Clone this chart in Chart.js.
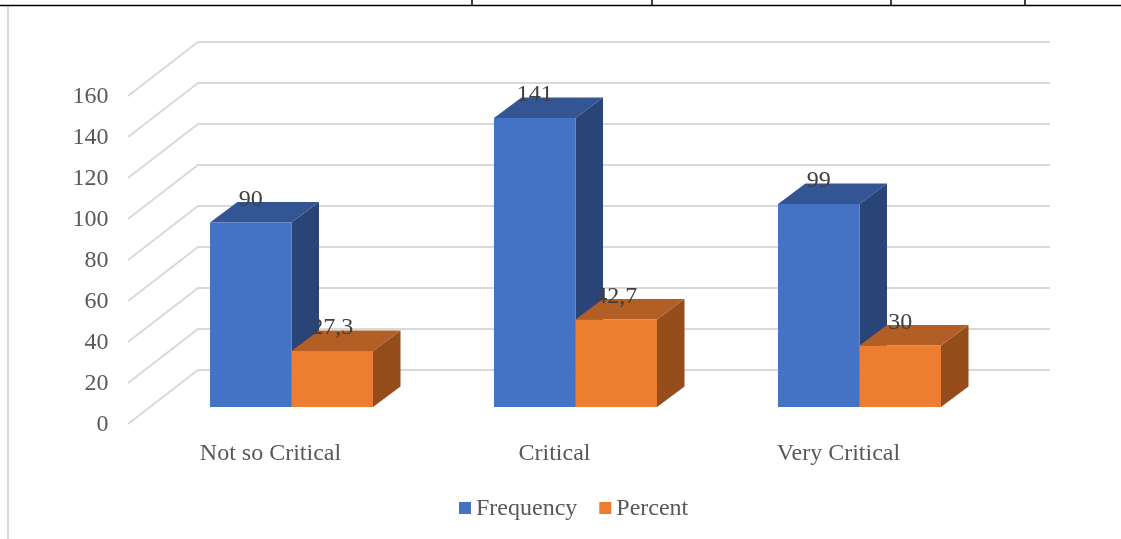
<!DOCTYPE html>
<html>
<head>
<meta charset="utf-8">
<title>Frequency and Percent</title>
<style>
  body { margin: 0; background: #fff; }
  canvas { display: block; }
</style>
<script src="https://cdn.jsdelivr.net/npm/chart.js@4"></script>
</head>
<body>
<canvas id="myChart" width="1121" height="539"></canvas>
<script>
const categorias = ["Not so Critical", "Critical", "Very Critical"];
const frequency = [90, 141, 99];
const percent = [27.3, 42.7, 30];
const valorMaximo = 160;
const paso = 20;

const fuente = "'Liberation Serif', 'Times New Roman', serif";
const colorTexto = "#595959";
const colorEtiqueta = "#404040";
const colorGrid = "#d9d9d9";

// colores de cada cara: frente, arriba, costado
const carasFrequency = ["#4472c4", "#335593", "#294476"];
const carasPercent = ["#ed7d31", "#b25e25", "#944d1b"];

// profundidad de las barras
const fondoX = 27.5;
const fondoY = 20.5;

function poligono(ctx, color, puntos) {
    ctx.fillStyle = color;
    ctx.beginPath();
    puntos.forEach(([x, y], i) => (i ? ctx.lineTo(x, y) : ctx.moveTo(x, y)));
    ctx.closePath();
    ctx.fill();
}

// Marco de la tabla y borde izquierdo del gráfico
const marco = {
    id: "marco",
    beforeDraw(chart) {
        const ctx = chart.ctx;
        ctx.save();
        ctx.strokeStyle = colorGrid;
        ctx.lineWidth = 2;
        ctx.beginPath();
        ctx.moveTo(8, 6);
        ctx.lineTo(8, 539);
        ctx.stroke();

        ctx.strokeStyle = "#000";
        ctx.lineWidth = 1.5;
        ctx.beginPath();
        ctx.moveTo(0, 5.5);
        ctx.lineTo(1121, 5.5);
        [472, 652, 891, 1025].forEach(x => {
            ctx.moveTo(x, 0);
            ctx.lineTo(x, 5.5);
        });
        ctx.stroke();
        ctx.restore();
    }
};

// Piso y pared del fondo, con las líneas de grilla en perspectiva
const paredes = {
    id: "paredes",
    beforeDatasetsDraw(chart) {
        const { ctx, scales: { x, y } } = chart;
        ctx.save();
        ctx.strokeStyle = colorGrid;
        ctx.lineWidth = 2;
        y.ticks.forEach(tick => {
            const py = y.getPixelForValue(tick.value);
            ctx.beginPath();
            ctx.moveTo(x.left - 21.5, py + 17);
            ctx.lineTo(x.left + 48.5, py - 37);
            ctx.lineTo(x.right + 48.5, py - 37);
            ctx.stroke();
        });

        // costado y tapa de cada barra, el frente lo dibuja Chart.js
        chart.data.datasets.forEach((dataset, i) => {
            chart.getDatasetMeta(i).data.forEach(barra => {
                const izq = barra.x - barra.width / 2;
                const der = barra.x + barra.width / 2;
                poligono(ctx, dataset.caras[2], [
                    [der, barra.y],
                    [der + fondoX, barra.y - fondoY],
                    [der + fondoX, barra.base - fondoY],
                    [der, barra.base]
                ]);
                poligono(ctx, dataset.caras[1], [
                    [izq, barra.y],
                    [izq + fondoX, barra.y - fondoY],
                    [der + fondoX, barra.y - fondoY],
                    [der, barra.y]
                ]);
            });
        });
        ctx.restore();
    }
};

// Etiquetas de valor y leyenda
const textos = {
    id: "textos",
    afterDatasetsDraw(chart) {
        const ctx = chart.ctx;
        ctx.save();
        ctx.font = `24px ${fuente}`;
        ctx.textBaseline = "middle";

        ctx.textAlign = "center";
        ctx.fillStyle = colorEtiqueta;
        chart.data.datasets.forEach((dataset, i) => {
            chart.getDatasetMeta(i).data.forEach((barra, j) => {
                const texto = String(dataset.data[j]).replace(".", ",");
                ctx.fillText(texto, barra.x, barra.y - 23);
            });
        });

        ctx.textAlign = "left";
        let posX = 459;
        chart.data.datasets.forEach(dataset => {
            ctx.fillStyle = dataset.backgroundColor;
            ctx.fillRect(posX, 502, 12, 12);
            ctx.fillStyle = colorTexto;
            ctx.fillText(dataset.label, posX + 17, 509);
            posX += 17 + ctx.measureText(dataset.label).width + 22;
        });
        ctx.restore();
    }
};

new Chart(document.getElementById("myChart"), {
    type: "bar",
    data: {
        labels: categorias,
        datasets: [
            { label: "Frequency", data: frequency, backgroundColor: carasFrequency[0], caras: carasFrequency },
            { label: "Percent", data: percent, backgroundColor: carasPercent[0], caras: carasPercent }
        ]
    },
    options: {
        responsive: false,
        animation: false,
        layout: { padding: { top: 79, right: 119.5, bottom: 0, left: 0 } },
        datasets: { bar: { barPercentage: 1, categoryPercentage: 0.574 } },
        plugins: {
            legend: { display: false },
            tooltip: { enabled: false }
        },
        scales: {
            x: {
                grid: { display: false, drawTicks: false },
                border: { display: false },
                afterFit(scale) { scale.height = 132; },
                ticks: {
                    color: colorTexto,
                    font: { family: fuente, size: 24 },
                    padding: 32,
                    labelOffset: -21,
                    maxRotation: 0,
                    autoSkip: false
                }
            },
            y: {
                min: 0,
                max: valorMaximo,
                grid: { display: false, drawTicks: false },
                border: { display: false },
                afterFit(scale) { scale.width = 149.5; },
                ticks: {
                    stepSize: paso,
                    color: colorTexto,
                    font: { family: fuente, size: 24 },
                    padding: 41,
                    labelOffset: 18
                }
            }
        }
    },
    plugins: [marco, paredes, textos]
});
</script>
</body>
</html>
